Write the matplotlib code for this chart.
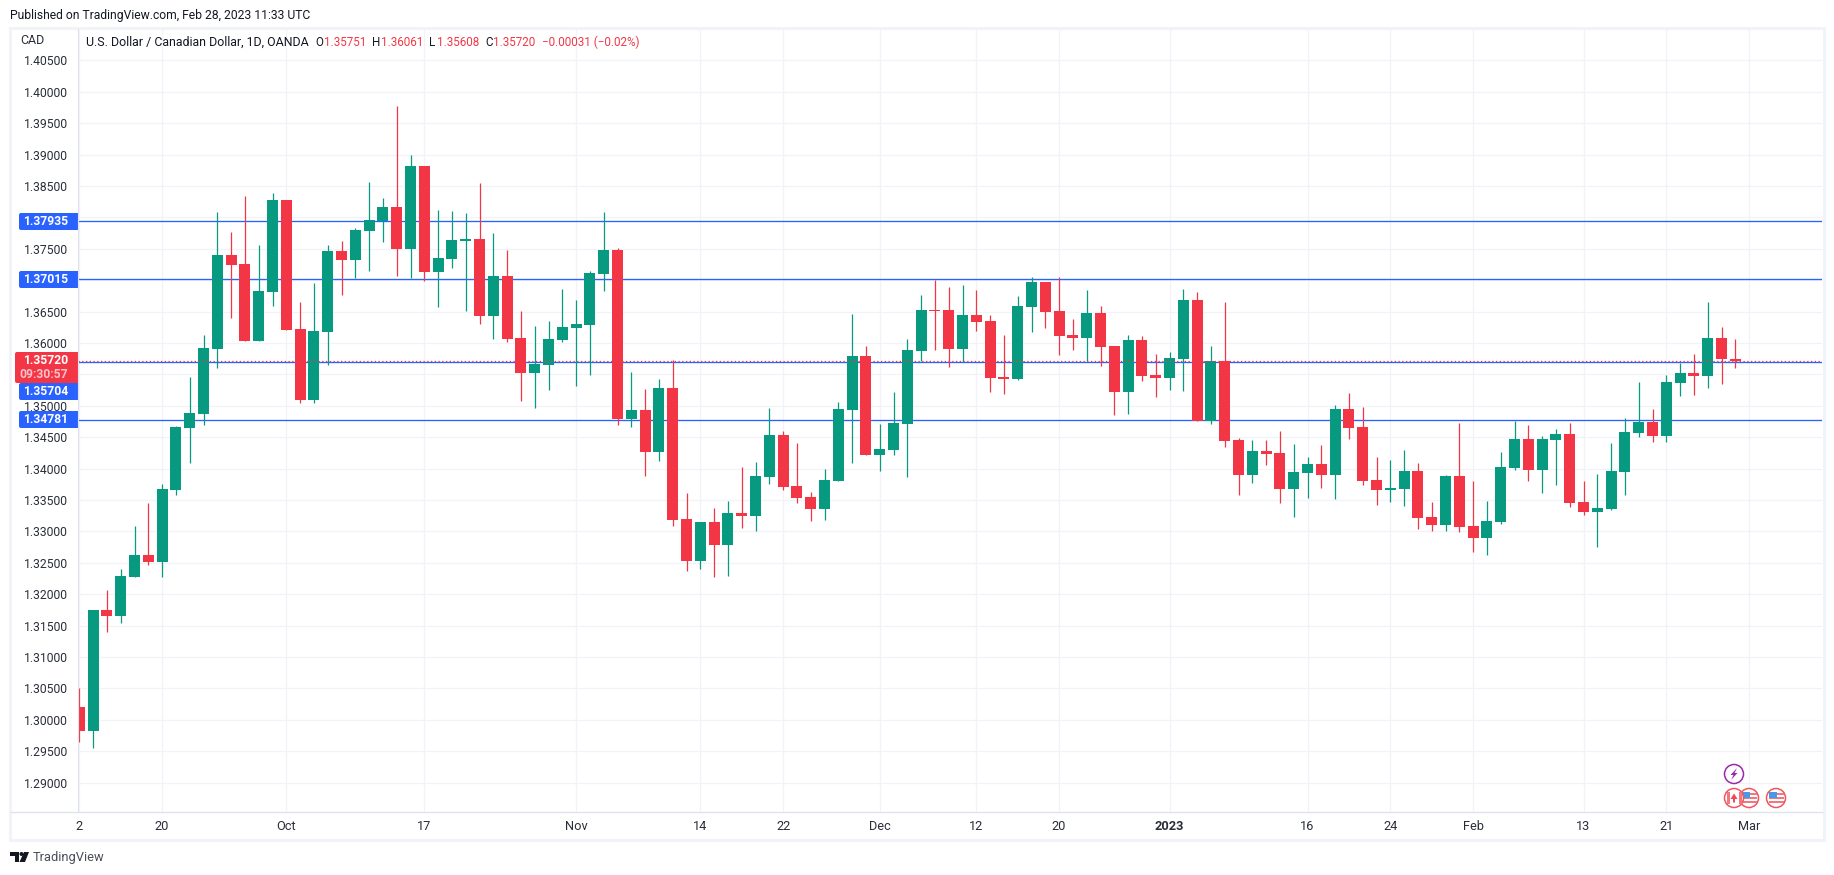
import matplotlib
matplotlib.use('Agg')
import matplotlib.pyplot as plt
from matplotlib.patches import Circle, FancyBboxPatch, Polygon, Rectangle

plt.rcParams['font.family'] = ['Roboto', 'DejaVu Sans']

# candles
opens = [1.30207, 1.29823, 1.31754, 1.31657, 1.32278, 1.32626, 1.32516, 1.33661, 1.34649, 1.34874,
         1.3591, 1.37403, 1.37262, 1.36038, 1.36818, 1.38276, 1.36227, 1.35093, 1.36178, 1.3747,
         1.37323, 1.37786, 1.37939, 1.3817, 1.375, 1.38818, 1.37134, 1.37342, 1.37628, 1.37658,
         1.36434, 1.37066, 1.36079, 1.35522, 1.35649, 1.36047, 1.36238, 1.36286, 1.37098, 1.3748,
         1.34784, 1.34933, 1.34264, 1.35283, 1.33197, 1.32529, 1.33149, 1.32783, 1.33293, 1.33245,
         1.33866, 1.34535, 1.33723, 1.33547, 1.33356, 1.33802, 1.34933, 1.35792, 1.34216, 1.34296,
         1.3471, 1.35872, 1.36525, 1.36525, 1.35904, 1.36445, 1.3635, 1.35458, 1.35426, 1.36573,
         1.36971, 1.36509, 1.36127, 1.36079, 1.36477, 1.35952, 1.35219, 1.36047, 1.3549, 1.35442,
         1.35745, 1.36684, 1.34758, 1.35713, 1.34455, 1.33898, 1.3428, 1.34248, 1.33675, 1.3393,
         1.34073, 1.33898, 1.34949, 1.34662, 1.33818, 1.33659, 1.33675, 1.33961, 1.33229, 1.33101,
         1.33882, 1.33085, 1.32894, 1.33149, 1.34009, 1.34471, 1.33977, 1.34455, 1.3455, 1.33468,
         1.33308, 1.33356, 1.33945, 1.34566, 1.34741, 1.34518, 1.35362, 1.35521, 1.35474, 1.36079,
         1.35751]
highs = [1.30511, 1.31754, 1.32071, 1.32406, 1.33089, 1.33454, 1.33759, 1.34685, 1.35459, 1.36129,
         1.38091, 1.37768, 1.3834, 1.37561, 1.38388, 1.38276, 1.36653, 1.36958, 1.37561, 1.37628,
         1.37835, 1.38563, 1.38308, 1.39773, 1.38993, 1.38818, 1.38121, 1.38103, 1.38073, 1.38547,
         1.37756, 1.3748, 1.36509, 1.3627, 1.3635, 1.36859, 1.36684, 1.37146, 1.38085, 1.37512,
         1.35538, 1.35267, 1.35426, 1.35729, 1.33611, 1.33149, 1.33372, 1.33484, 1.34025, 1.34105,
         1.34964, 1.34598, 1.34407, 1.33627, 1.33993, 1.3506, 1.36461, 1.35952, 1.3471, 1.35219,
         1.36063, 1.36764, 1.37002, 1.36891, 1.36923, 1.36843, 1.36445, 1.36127, 1.36748, 1.3705,
         1.36971, 1.3705, 1.36381, 1.36843, 1.36588, 1.35952, 1.36127, 1.36111, 1.35824, 1.35856,
         1.36859, 1.36811, 1.35952, 1.36652, 1.34487, 1.34455, 1.34455, 1.34598, 1.34391, 1.34184,
         1.34375, 1.35012, 1.35203, 1.3498, 1.34184, 1.34136, 1.34295, 1.34088, 1.33468, 1.33897,
         1.34725, 1.33802, 1.33483, 1.34264, 1.34757, 1.34693, 1.34518, 1.3463, 1.34725, 1.33802,
         1.33913, 1.34407, 1.34805, 1.35378, 1.34948, 1.3549, 1.35681, 1.35824, 1.36652, 1.36254,
         1.36061]
lows = [1.29652, 1.29555, 1.31401, 1.31547, 1.32278, 1.32467, 1.32278, 1.33582, 1.34094, 1.34697,
        1.35605, 1.36403, 1.36038, 1.36038, 1.36592, 1.36208, 1.35038, 1.35051, 1.35654, 1.36769,
        1.37037, 1.37147, 1.3761, 1.37067, 1.37037, 1.36994, 1.36574, 1.37195, 1.36513, 1.36306,
        1.36068, 1.36015, 1.35076, 1.34964, 1.35251, 1.36015, 1.35315, 1.3549, 1.36827, 1.34694,
        1.34662, 1.33882, 1.34121, 1.33086, 1.32369, 1.32401, 1.32274, 1.3229, 1.33054, 1.33006,
        1.33754, 1.33659, 1.33452, 1.33165, 1.33181, 1.33802, 1.34089, 1.34216, 1.33961, 1.34216,
        1.33866, 1.35713, 1.35888, 1.35617, 1.35697, 1.3619, 1.35219, 1.35187, 1.3541, 1.36174,
        1.36238, 1.35808, 1.35888, 1.35713, 1.35633, 1.34853, 1.34869, 1.35394, 1.3514, 1.35251,
        1.35235, 1.34758, 1.3471, 1.34344, 1.33579, 1.3377, 1.34057, 1.33452, 1.33229, 1.33532,
        1.33691, 1.33516, 1.34471, 1.33739, 1.3342, 1.33468, 1.33404, 1.33038, 1.33002, 1.33002,
        1.3299, 1.32671, 1.32624, 1.33117, 1.33977, 1.33802, 1.33611, 1.33738, 1.33388, 1.33261,
        1.32751, 1.3334, 1.33579, 1.34502, 1.34423, 1.34423, 1.35155, 1.35171, 1.35283, 1.35346,
        1.35608]
closes = [1.29823, 1.31754, 1.31657, 1.3229, 1.32626, 1.32516, 1.3368, 1.34667, 1.34886, 1.35922,
          1.37403, 1.37244, 1.36038, 1.3683, 1.38276, 1.36208, 1.35093, 1.36196, 1.3747, 1.37323,
          1.37805, 1.37963, 1.3817, 1.375, 1.38818, 1.37134, 1.37354, 1.3764, 1.37658, 1.36434,
          1.37067, 1.36063, 1.35522, 1.35665, 1.36063, 1.36254, 1.36302, 1.37114, 1.3748, 1.34789,
          1.34933, 1.34264, 1.35283, 1.33181, 1.32529, 1.33149, 1.32783, 1.33293, 1.33245, 1.33882,
          1.34535, 1.33707, 1.33532, 1.33356, 1.33818, 1.34949, 1.35792, 1.34216, 1.34312, 1.34726,
          1.35888, 1.36525, 1.36509, 1.35904, 1.36445, 1.36334, 1.35442, 1.35426, 1.36588, 1.36971,
          1.36493, 1.36111, 1.36079, 1.36477, 1.35936, 1.35219, 1.36047, 1.35474, 1.35442, 1.35761,
          1.36684, 1.34758, 1.35713, 1.34439, 1.33898, 1.3428, 1.34232, 1.33675, 1.33946, 1.34073,
          1.33898, 1.34949, 1.34646, 1.33802, 1.33659, 1.3369, 1.33961, 1.33213, 1.33101, 1.33882,
          1.3307, 1.32894, 1.33165, 1.34025, 1.34471, 1.33977, 1.34471, 1.3455, 1.33452, 1.33308,
          1.33372, 1.33961, 1.34582, 1.34741, 1.34518, 1.35378, 1.35521, 1.35474, 1.36079, 1.35744,
          1.3572]

price_ticks = [1.405, 1.40, 1.395, 1.39, 1.385, 1.38, 1.375, 1.37, 1.365, 1.36, 1.355, 1.35, 1.345,
               1.34, 1.335, 1.33, 1.325, 1.32, 1.315, 1.31, 1.305, 1.30, 1.295, 1.29]
hidden_ticks = [1.38, 1.37, 1.355]
time_ticks = [0, 6, 15, 25, 36, 45, 51, 58, 65, 71, 79, 89, 95, 101, 109, 115, 121]
time_labels = ['2', '20', 'Oct', '17', 'Nov', '14', '22', 'Dec', '12', '20', '2023', '16', '24', 'Feb', '13', '21', 'Mar']
levels = [1.37935, 1.37015, 1.35704, 1.34781]
level_labels = ['1.37935', '1.37015', '1.35704', '1.34781']
last_price = 1.3572

GREEN = '#089981'
RED = '#F23645'
BLUE = '#2962FF'
GRID = '#f0f3fa'
TEXT = '#131722'
W, H = 1834, 875

fig = plt.figure(figsize=(W / 100, H / 100), dpi=100, facecolor='white')
L, R, T, B = 78, 1822, 29, 812
ax = fig.add_axes([L / W, 1 - B / H, (R - L) / W, (B - T) / H])
ax.set_xlim((L - 79.3) / 13.8, (R - 79.3) / 13.8)
ax.set_ylim(1.405 - (B - 60.3) / 6281, 1.405 - (T - 60.3) / 6281)
for s in ax.spines.values():
    s.set_visible(False)

ax.set_yticks(price_ticks)
ax.set_yticklabels(['' if p in hidden_ticks else '%.5f' % p for p in price_ticks])
ax.set_xticks(time_ticks)
ax.set_xticklabels(time_labels)
ax.tick_params(axis='y', length=0, pad=7.2, labelsize=8.7, labelcolor='#2a2e39')
ax.tick_params(axis='x', length=0, pad=5.5, labelsize=9.2, labelcolor='#2a2e39')
ax.get_xticklabels()[10].set_fontweight('bold')
ax.grid(True, color=GRID, lw=0.9)
ax.set_axisbelow(True)

for p in levels:
    ax.axhline(p, color=BLUE, lw=0.95, zorder=1.5)

idx = list(range(len(opens)))
colors = [GREEN if c >= o else RED for o, c in zip(opens, closes)]
ax.vlines(idx, lows, highs, colors=colors, lw=0.9, zorder=2)
tops = [max(o, c) for o, c in zip(opens, closes)]
bots = [min(o, c) for o, c in zip(opens, closes)]
ax.bar(idx, [t - b for t, b in zip(tops, bots)], bottom=bots, width=0.8, color=colors, zorder=3)
ax.axhline(last_price, color=RED, lw=0.9, ls=(0, (1, 2)), zorder=4)

# everything around the plot, in image pixels
ov = fig.add_axes([0, 0, 1, 1], zorder=5)
ov.set_xlim(0, W)
ov.set_ylim(H, 0)
ov.axis('off')
ov.patch.set_alpha(0)

ov.add_patch(Rectangle((10, 28), 1814, 812, fill=False, ec='#f2f3f8', lw=2.2))
ov.plot([L, L], [T, B], color='#e0e3eb', lw=0.8)
ov.plot([11, 1822], [B, B], color='#e0e3eb', lw=1)

ov.text(10, 15, 'Published on TradingView.com, Feb 28, 2023 11:33 UTC', fontsize=8.7, color=TEXT, va='center')
ov.text(20, 41, 'CAD', fontsize=8.9, color='#2a2e39', va='center')
ov.text(86, 42, 'U.S. Dollar / Canadian Dollar, 1D, OANDA', fontsize=8.9, color=TEXT, va='center')
legend_bits = [(315, 'O', TEXT), (324, '1.35751', RED), (372, 'H', TEXT), (380.5, '1.36061', RED),
               (429.5, 'L', TEXT), (436.5, '1.35608', RED), (485, 'C', TEXT), (493, '1.35720', RED),
               (541.5, '\u22120.00031 (\u22120.02%)', RED)]
for x, s, c in legend_bits:
    ov.text(x, 42, s, fontsize=8.4, color=c, va='center')

# price labels
for (y0, y1), s in zip([(213, 230), (271, 288), (383, 400), (411, 428)], level_labels):
    ov.add_patch(FancyBboxPatch((19, y0), 59, y1 - y0, boxstyle='round,pad=0,rounding_size=2', color=BLUE, lw=0))
    ov.add_patch(Rectangle((60, y0), 18, y1 - y0, color=BLUE, lw=0))
    ov.text(68, (y0 + y1) / 2 + 0.3, s, color='white', fontsize=8.7, fontweight='bold', ha='right', va='center')
ov.add_patch(FancyBboxPatch((15, 352), 63, 31, boxstyle='round,pad=0,rounding_size=2', color=RED, lw=0))
ov.add_patch(Rectangle((60, 352), 18, 31, color=RED, lw=0))
ov.text(68, 361, '1.35720', color='white', fontsize=8.7, fontweight='bold', ha='right', va='center')
ov.text(68, 375, '09:30:57', color='#fbc3c8', fontsize=8.7, fontweight='bold', ha='right', va='center')

# event markers
ov.add_patch(Circle((1734, 774), 9.5, fc='white', ec='#9c27b0', lw=1.1))
ov.add_patch(Polygon([(1737, 768), (1730.5, 775), (1733.5, 775), (1731, 780), (1737.5, 773), (1734.5, 773)], color='#9c27b0', lw=0))


def us_flag(x, y):
    ov.add_patch(Circle((x, y), 9.5, fc='white', ec='#f2555f', lw=1.1))
    for dy in (-5, -1, 3):
        ov.add_patch(Rectangle((x - 7, y + dy), 14.5, 2, color='#f0787f', lw=0))
    ov.add_patch(Rectangle((x - 7, y - 6), 7.5, 6, color='#4a98e8', lw=0))


us_flag(1749, 798)
us_flag(1776, 798)
ov.add_patch(Circle((1734, 798), 9.5, fc='white', ec='#f2555f', lw=1.1, zorder=3))
ov.add_patch(Rectangle((1726.5, 792), 3, 12, color='#f0787f', lw=0, zorder=4))
ov.add_patch(Rectangle((1738.5, 792), 3, 12, color='#f0787f', lw=0, zorder=4))
ov.add_patch(Polygon([(1734, 793.5), (1737.5, 799), (1735, 799), (1735, 802.5), (1733, 802.5), (1733, 799), (1730.5, 799)],
                     color='#ec4a55', lw=0, zorder=4))

# logo
ov.add_patch(Polygon([(10, 852), (19, 852), (19, 862), (15, 862), (15, 856), (10, 856)], color='#131722', lw=0))
ov.add_patch(Circle((21.5, 854), 2, color='#131722', lw=0))
ov.add_patch(Polygon([(24, 852), (29, 852), (25, 862), (19.5, 862)], color='#131722', lw=0))
ov.text(33, 857.5, 'TradingView', fontsize=9.3, color='#4a4e59', va='center')

fig.savefig('out.png', dpi=100)
